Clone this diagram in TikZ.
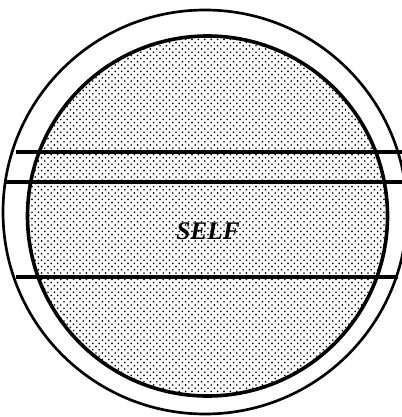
\documentclass[tikz,border=0pt]{standalone}
\usepackage{fontspec}
\newfontfamily\selffont{Liberation Serif}
\usetikzlibrary{patterns}

% coarse stipple for the shaded core
\pgfdeclarepatternformonly{selfdots}{\pgfqpoint{-1pt}{-1pt}}{\pgfqpoint{4pt}{4pt}}{\pgfqpoint{4.8pt}{4.8pt}}{%
  \pgfpathcircle{\pgfqpoint{0pt}{0pt}}{0.7pt}
  \pgfpathcircle{\pgfqpoint{2.4pt}{2.4pt}}{0.7pt}
  \pgfusepath{fill}
}

\begin{document}
\begin{tikzpicture}[x=0.75pt,y=-0.75pt,
    every node/.style={font=\selffont\fontsize{19}{22}\selectfont\bfseries\itshape},
    ring/.style={draw=black,line width=2pt},
    core/.style={draw=black,line width=2.7pt,pattern=selfdots,pattern color=black},
    band/.style={draw=black,line width=2.4pt}]
    \useasboundingbox (0,0) rectangle (402,417);

    \draw[ring] (205,212) circle (202);
    \draw[core] (207.5,216) circle (180);

    \draw[band] (16,152) -- (402,152);
    \draw[band] (5,182) -- (402,182);
    \draw[band] (16,277) -- (398,277);

    \node (self) at (208,231) {SELF};
  \end{tikzpicture}
\end{document}
